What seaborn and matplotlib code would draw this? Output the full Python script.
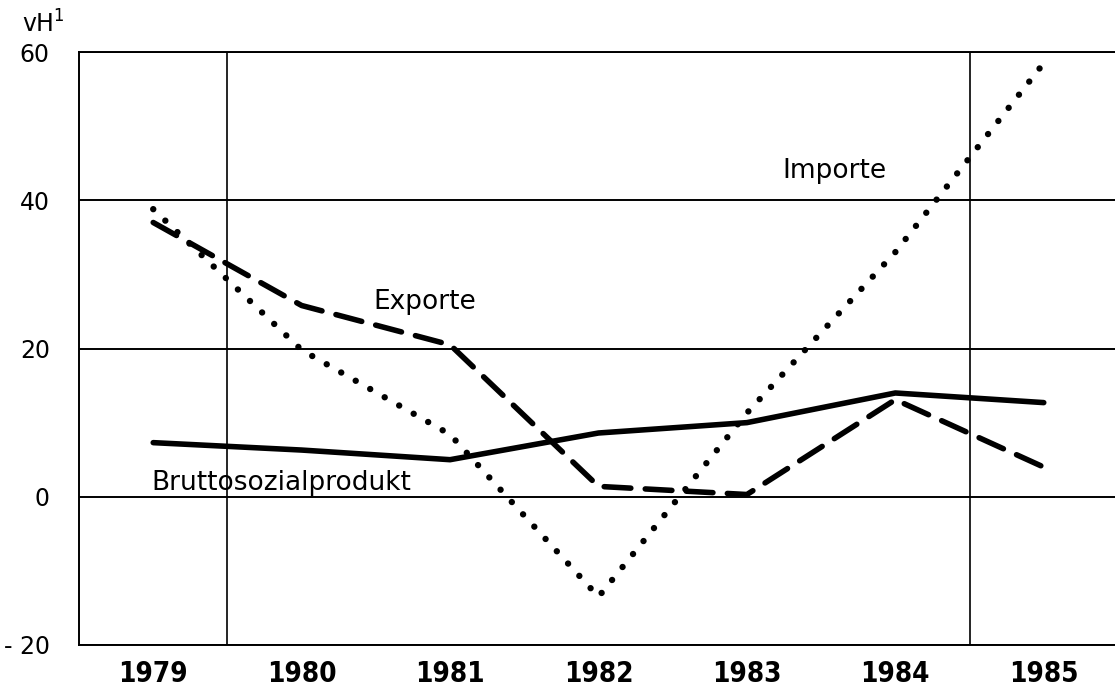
import matplotlib
matplotlib.use('Agg')
import matplotlib.pyplot as plt
import numpy as np
import pandas as pd
import seaborn as sns

# values (vH = Veraenderung in %)
years = [1979, 1980, 1981, 1982, 1983, 1984, 1985]
bsp = [7.3, 6.3, 5.0, 8.6, 10.0, 14.0, 12.7]
exporte = [37.0, 25.8, 20.5, 1.4, 0.3, 13.1, 4.0]
importe = [38.8, 19.8, 8.4, -13.5, 11.3, 33.0, 58.5]
series = ['Bruttosozialprodukt', 'Exporte', 'Importe']
y_ticks = [-20, 0, 20, 40, 60]
y_ticklabels = ['- 20', '0', '20', '40', '60']

df = pd.DataFrame({
    'Jahr': years * 3,
    'vH': bsp + exporte + importe,
    'Reihe': [s for s in series for _ in years],
})

sns.set_style('white')
plt.rcParams['font.family'] = ['DejaVu Sans']
plt.rcParams['text.color'] = 'black'
plt.rcParams['xtick.color'] = 'black'
plt.rcParams['ytick.color'] = 'black'

W, H = 1115, 691
fig = plt.figure(figsize=(W / 100, H / 100), dpi=100)
ax = fig.add_axes([79 / W, 46 / H, 1 - 79 / W, (645 - 52) / H])

sns.lineplot(data=df, x='Jahr', y='vH', style='Reihe', style_order=series,
             dashes={'Bruttosozialprodukt': '', 'Exporte': (4.8, 2.6), 'Importe': (0.01, 2.6)},
             color='black', linewidth=4.0, legend=False, ax=ax, zorder=3)
for line in ax.lines:
    line.set_dash_capstyle('round')
    line.set_solid_capstyle('round')
    line.set_solid_joinstyle('round')
ax.lines[2].set_linewidth(4.6)

ax.set_xlim(1978.5, 1985.48)
ax.set_ylim(-20, 60)

# grid and the two odd vertical rules
ax.set_yticks(y_ticks)
ax.set_yticklabels(y_ticklabels, fontsize=17, va='top')
for lab in ax.get_yticklabels():
    lab.set_va('center_baseline')
ax.yaxis.grid(True, color='black', linewidth=1.4)
for xv in [1979.5, 1984.5]:
    ax.axvline(xv, color='black', linewidth=1.2, zorder=1)

ax.set_xticks(years)
ax.set_xticklabels([str(y) for y in years], fontsize=20, fontweight='bold',
                   fontstretch='condensed')
ax.set_xticks(np.arange(1978.5, 1985.5, 1), minor=True)
ax.tick_params(axis='x', which='major', length=0, pad=11)
ax.tick_params(axis='x', which='minor', length=11, width=1.2, direction='out', color='black')
ax.tick_params(axis='y', length=0, pad=21)
ax.set_xlabel('')
ax.set_ylabel('')

for side in ['left', 'top', 'bottom']:
    ax.spines[side].set_color('black')
    ax.spines[side].set_linewidth(1.4)
ax.spines['right'].set_visible(False)

# series labels
ax.text(1980.48, 26.3, 'Exporte', fontsize=19, va='center', ha='left')
ax.text(1983.24, 44.0, 'Importe', fontsize=19, va='center', ha='left')
ax.text(1978.99, 1.9, 'Bruttosozialprodukt', fontsize=19, va='center', ha='left')

fig.text(22 / W, 1 - 33 / H, 'vH$^1$', fontsize=17, va='baseline', ha='left')

fig.savefig('out.png', dpi=100)
